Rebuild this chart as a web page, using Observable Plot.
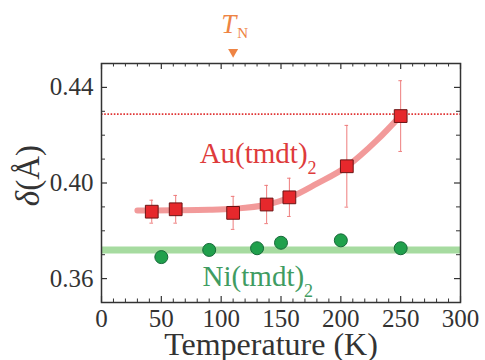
<!DOCTYPE html>
<html><head><meta charset="utf-8">
<script src="https://cdn.jsdelivr.net/npm/d3@7"></script>
<script src="https://cdn.jsdelivr.net/npm/@observablehq/plot@0.6"></script>
<style>
body{margin:0;background:#fff;}
svg{display:block;}
#chart svg, #chart svg text { font-family: "Liberation Serif", "Times New Roman", Times, serif !important; }
</style>
</head><body><div id="chart"></div>
<script>
// Au(tmdt)2 data (squares with error bars)
const auT = [42, 62, 110, 138, 157, 205, 250];
const auDelta = [0.388, 0.389, 0.3875, 0.391, 0.394, 0.407, 0.428];
const auErr = [0.0048, 0.0058, 0.0069, 0.008, 0.008, 0.0171, 0.0148];
// Ni(tmdt)2 data (circles)
const niT = [50, 90, 130, 150, 200, 250];
const niDelta = [0.369, 0.372, 0.3727, 0.375, 0.376, 0.3727];
const niErr = [0.0015, 0.0015, 0.0015, 0.0015, 0.0018, 0.0015];
// guide curve through Au data
const fitT = [30, 60, 90, 110, 138, 157, 180, 205, 230, 250];
const fitDelta = [0.3885, 0.3886, 0.3888, 0.3892, 0.3909, 0.3938, 0.3997, 0.4069, 0.4178, 0.4282];
// reference levels
const niLevel = [0.372];
const auLimit = [0.4288];
const tN = [110];
// ticks
const xTicks = [0, 50, 100, 150, 200, 250, 300];
const xMinor = [10, 20, 30, 40, 60, 70, 80, 90, 110, 120, 130, 140, 160, 170, 180, 190, 210, 220, 230, 240, 260, 270, 280, 290];
const yTicks = [0.36, 0.40, 0.44];
const yMinor = [0.37, 0.38, 0.39, 0.41, 0.42, 0.43];
// text labels
const labelText = ["Au(tmdt)2", "Ni(tmdt)2"];
const labelT = [82, 84.5];
const labelDelta = [0.4082, 0.3569];
const labelColor = ["#de3b3b", "#3f9c62"];

const au = auT.map((T, i) => ({T, d: auDelta[i], e: auErr[i]}));
const ni = niT.map((T, i) => ({T, d: niDelta[i], e: niErr[i]}));
const fit = fitT.map((T, i) => ({T, d: fitDelta[i]}));
const labels = labelText.map((t, i) => ({t, T: labelT[i], d: labelDelta[i], c: labelColor[i]}));

const W = 485, H = 360;
const mL = 101, mR = 25, mT = 63, mB = 58;
const FW = W - mL - mR, FH = H - mT - mB;
const ink = "#333";
const serif = "Liberation Serif";

const svg = Plot.plot({
  width: W, height: H,
  marginLeft: mL, marginRight: mR, marginTop: mT, marginBottom: mB,
  style: {fontFamily: serif, fontSize: "25px", color: ink, background: "#fff", overflow: "visible"},
  x: {domain: [0, 300]},
  y: {domain: [0.35, 0.45]},
  marks: [
    Plot.ruleY(niLevel, {y: d => d, stroke: "#a6dba0", strokeWidth: 7}),
    Plot.ruleY(auLimit, {y: d => d, stroke: "#e03535", strokeWidth: 1.6, strokeDasharray: "1.6,1.6"}),
    Plot.line(fit, {x: "T", y: "d", stroke: "#f08888", strokeWidth: 6, strokeOpacity: 0.85, curve: "monotone-x"}),
    Plot.ruleX(au, {x: "T", y1: d => d.d - d.e, y2: d => d.d + d.e, stroke: "#ee7d7d", strokeWidth: 1}),
    Plot.ruleY(au, {y: d => d.d + d.e, x1: d => d.T - 1.5, x2: d => d.T + 1.5, stroke: "#ee7d7d", strokeWidth: 1}),
    Plot.ruleY(au, {y: d => d.d - d.e, x1: d => d.T - 1.5, x2: d => d.T + 1.5, stroke: "#ee7d7d", strokeWidth: 1}),
    Plot.ruleX(ni, {x: "T", y1: d => d.d - d.e, y2: d => d.d + d.e, stroke: "#6cbf80", strokeWidth: 1}),
    Plot.dot(au, {x: "T", y: "d", symbol: "square", r: 7.2, fill: "#e6282c", stroke: "#6a1414", strokeWidth: 1}),
    Plot.dot(ni, {x: "T", y: "d", symbol: "circle", r: 6.5, fill: "#20a04c", stroke: "#17693a", strokeWidth: 1}),
    Plot.text(labels, {x: "T", y: "d", text: "t", fill: "c", textAnchor: "start", lineAnchor: "bottom", fontSize: 29, fontFamily: serif}),
    // T_N marker
    Plot.dot(tN, {x: d => d, frameAnchor: "top", dy: -11.5, symbol: "triangle", rotate: 180, r: 3.7, fill: "#ee8444"}),
    Plot.text(tN, {x: d => d, frameAnchor: "top", dy: -31, dx: -12, text: () => "TN", fill: "#ee8444", textAnchor: "start", lineAnchor: "bottom", fontSize: 27, fontFamily: serif}),
    // inward ticks
    Plot.ruleX(xTicks, {x: d => d, insetBottom: FH - 6, stroke: ink, strokeWidth: 1.2}),
    Plot.ruleX(xTicks, {x: d => d, insetTop: FH - 6, stroke: ink, strokeWidth: 1.2}),
    Plot.ruleX(xMinor, {x: d => d, insetBottom: FH - 3.5, stroke: ink, strokeWidth: 1}),
    Plot.ruleX(xMinor, {x: d => d, insetTop: FH - 3.5, stroke: ink, strokeWidth: 1}),
    Plot.ruleY(yTicks, {y: d => d, insetRight: FW - 6, stroke: ink, strokeWidth: 1.2}),
    Plot.ruleY(yTicks, {y: d => d, insetLeft: FW - 6, stroke: ink, strokeWidth: 1.2}),
    Plot.ruleY(yMinor, {y: d => d, insetRight: FW - 4, stroke: ink, strokeWidth: 1}),
    Plot.ruleY(yMinor, {y: d => d, insetLeft: FW - 4, stroke: ink, strokeWidth: 1}),
    Plot.frame({stroke: ink, strokeWidth: 1.5}),
    Plot.axisX({ticks: xTicks, tickFormat: d => String(d), tickSize: 0, tickPadding: 7, label: null, fontSize: 25, fontFamily: serif}),
    Plot.axisY({ticks: yTicks, tickFormat: d => d.toFixed(2), tickSize: 0, tickPadding: 8, label: null, fontSize: 25, fontFamily: serif}),
    Plot.text(["Temperature (K)"], {frameAnchor: "bottom", text: d => d, dy: 52, dx: -10, lineAnchor: "bottom", fontSize: 32, fill: ink, fontFamily: serif}),
    Plot.text(["δ(Å)"], {frameAnchor: "left", y: () => 0.4031, text: d => d, dx: -73, rotate: -90, textAnchor: "middle", lineAnchor: "middle", fontSize: 33, fill: ink, fontFamily: serif})
  ]
});

const NS = "http://www.w3.org/2000/svg";
function tspan(parent, txt, attrs) {
  const s = document.createElementNS(NS, "tspan");
  s.textContent = txt;
  for (const k in attrs) s.setAttribute(k, attrs[k]);
  parent.appendChild(s);
  return s;
}
svg.querySelectorAll("text").forEach(t => {
  t.setAttribute("font-family", serif);
  const s = t.textContent;
  if (s === "Au(tmdt)2" || s === "Ni(tmdt)2") {
    t.textContent = "";
    tspan(t, s.slice(0, -1), {});
    tspan(t, "2", {"font-size": "18", dy: "11"});
  } else if (s === "TN") {
    t.textContent = "";
    tspan(t, "T", {"font-style": "italic"});
    tspan(t, "N", {"font-size": "15", dy: "5", dx: "1"});
  } else if (s === "δ(Å)") {
    t.textContent = "";
    tspan(t, "δ", {"font-style": "italic"});
    tspan(t, "(Å)", {});
  }
});
document.getElementById("chart").appendChild(svg);
</script>
</body></html>
